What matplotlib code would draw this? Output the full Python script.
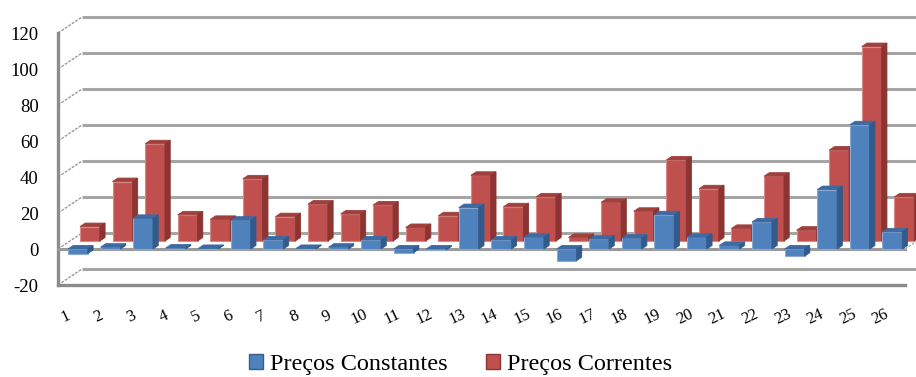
import matplotlib.pyplot as plt
import numpy as np
from matplotlib.patches import Polygon, Patch

plt.rcParams['font.family'] = ['Liberation Serif', 'DejaVu Serif']

categories = [str(i) for i in range(1, 27)]
constantes = [-2.5, 1, 17, 0.5, 0.3, 16, 5, 0.3, 1, 5, -2, -0.5, 23,
              5, 6.5, -6.5, 5.5, 6, 19, 6.5, 2, 15, -4, 33, 69, 9.5]
correntes = [8, 33, 54, 14.5, 12, 34.5, 13.5, 20.5, 15, 20, 7.5, 14, 36.5,
             19, 24.5, 2, 21.5, 16.5, 45, 29, 7, 36, 6, 50.5, 108, 24.5]
yticks = [-20, 0, 20, 40, 60, 80, 100, 120]

# oblique depth of the 3d box, in data units
DX, DY = 0.737, 8.9
W = 0.61

fig = plt.figure(figsize=(9.16, 3.77), dpi=100)
ax = fig.add_axes([58 / 916, 92 / 377, 847 / 916, 252 / 377])
ax.set_xlim(0.5, 26.5)
ax.set_ylim(-20, 120)
for s in ax.spines.values():
    s.set_visible(False)

grid = '#a5a5a5'
# back wall and left wall
for v in yticks:
    ax.plot([0.5 + DX, 27.5], [v + DY, v + DY], color=grid, lw=2.2,
            clip_on=False, zorder=1, solid_capstyle='butt')
    ax.plot([0.5, 0.5 + DX], [v, v + DY], color='#9a9a9a', lw=1.0,
            ls=(0, (2, 1)), clip_on=False, zorder=1)
# front edges
ax.plot([0.5, 0.5], [-20, 120], color='#8c8c8c', lw=2.4, clip_on=False, zorder=2)
ax.plot([0.5, 26.5], [-20, -20], color='#8c8c8c', lw=2.4, clip_on=False, zorder=2)
ax.plot([0.5, 26.5], [0, 0], color='#9a9a9a', lw=2.2, clip_on=False, zorder=2)
ax.plot([26.5, 26.5 + DX], [0, DY], color='#b0b0b0', lw=1.0,
        ls=(0, (2, 1)), clip_on=False, zorder=2)


def bars3d(values, d0, d1, front, top, side, edge, z):
    x = np.arange(1, 27) + 0.11 + d0 * DX
    ax.bar(x, values, width=W, bottom=d0 * DY, color=front, edgecolor=edge,
           linewidth=0.8, zorder=z, clip_on=False)
    dd = d1 - d0
    for xc, v in zip(x, values):
        lo, hi = min(0, v) + d0 * DY, max(0, v) + d0 * DY
        xl, xr = xc - W / 2, xc + W / 2
        topface = [(xl, hi), (xr, hi), (xr + dd * DX, hi + dd * DY),
                   (xl + dd * DX, hi + dd * DY)]
        sideface = [(xr, lo), (xr, hi), (xr + dd * DX, hi + dd * DY),
                    (xr + dd * DX, lo + dd * DY)]
        ax.add_patch(Polygon(topface, closed=True, fc=top, ec=top, lw=0.6,
                             zorder=z, clip_on=False))
        ax.add_patch(Polygon(sideface, closed=True, fc=side, ec=side, lw=0.6,
                             zorder=z, clip_on=False))


bars3d(correntes, 0.5, 0.72, '#c0504d', '#a0403d', '#8c3431', '#d98a88', 3)
bars3d(constantes, 0.0, 0.22, '#4f81bd', '#3c6aa1', '#325a8a', '#8aaad4', 4)

ax.set_yticks(yticks)
ax.set_yticklabels([str(v) for v in yticks], fontsize=13.5)
ax.tick_params(axis='y', length=0, pad=14)
ax.set_xticks([])

for i, lab in enumerate(categories, start=1):
    ax.annotate(lab, (i, -20), xytext=(-6, -23), textcoords='offset points',
                rotation=25, ha='center', va='center', fontsize=12,
                annotation_clip=False)

handles = [Patch(fc='#4f81bd', ec='#385d8a'), Patch(fc='#c0504d', ec='#8c3431')]
fig.legend(handles, ['Preços Constantes', 'Preços Correntes'], loc='center',
           bbox_to_anchor=(0.503, 0.033), ncol=2, frameon=False, fontsize=17.5,
           handlelength=0.55, handleheight=0.55, handletextpad=0.3,
           columnspacing=1.6)

fig.savefig('out.png', dpi=100)
